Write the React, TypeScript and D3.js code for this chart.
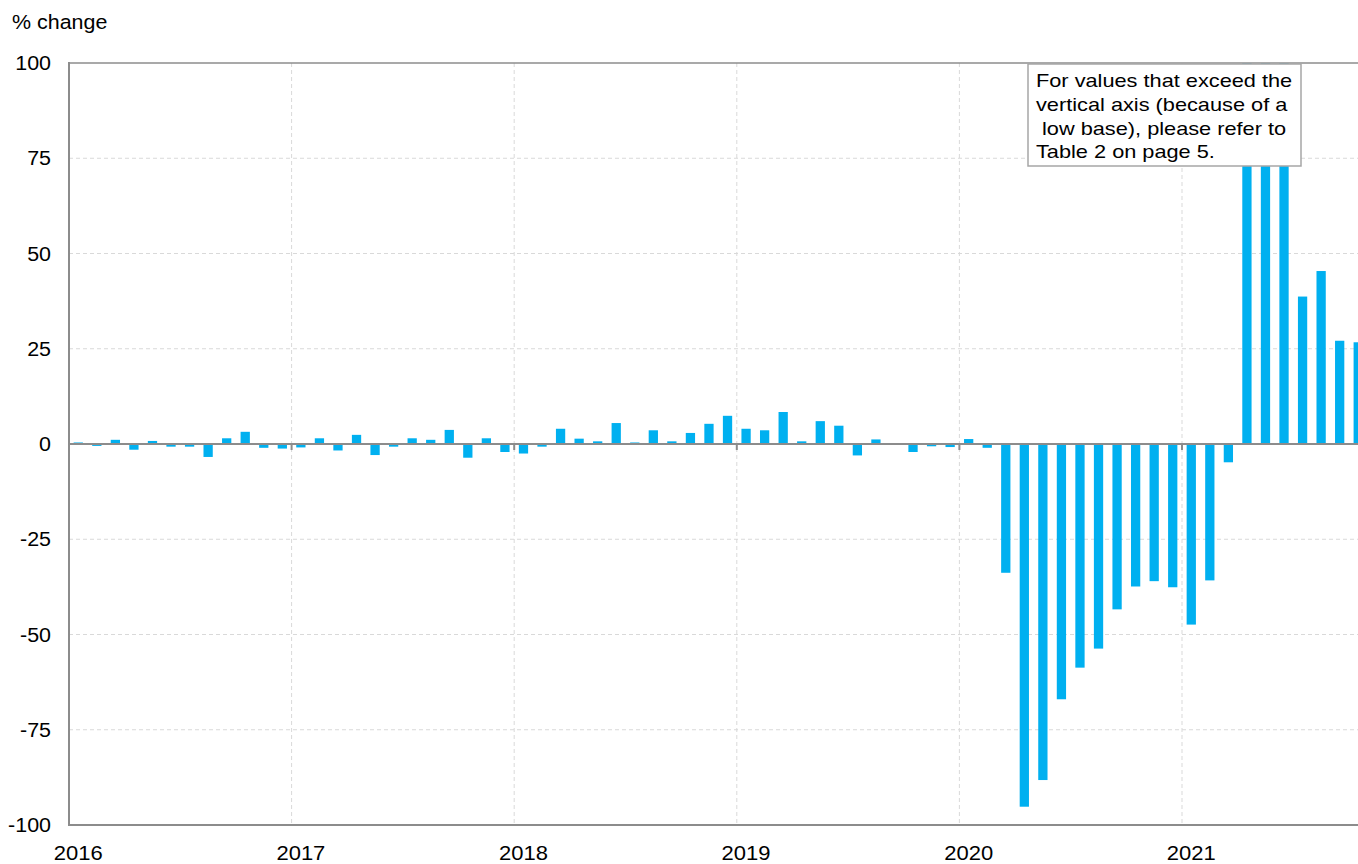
import * as React from 'react';
import * as d3 from 'd3';

// Monthly % change, Jan 2016 – Oct 2021
const years = ['2016', '2017', '2018', '2019', '2020', '2021'];
const values2016 = [0.4, -0.5, 1.1, -1.5, 0.8, -0.7, -0.7, -3.4, 1.5, 3.2, -1.0, -1.2];
const values2017 = [-0.9, 1.5, -1.7, 2.4, -2.9, -0.7, 1.5, 1.1, 3.7, -3.6, 1.5, -2.1];
const values2018 = [-2.5, -0.7, 4.0, 1.4, 0.7, 5.5, 0.4, 3.6, 0.7, 2.9, 5.3, 7.4];
const values2019 = [4.0, 3.6, 8.4, 0.7, 6.0, 4.8, -3.0, 1.2, 0.1, -2.1, -0.6, -0.8];
const values2020 = [1.3, -1.0, -33.8, -95.2, -88.2, -67.0, -58.7, -53.7, -43.4, -37.4, -36.0, -37.6];
// Apr–Jun 2021 exceed the axis (low base), shown clipped at 100
const values2021 = [-47.4, -35.8, -4.8, 150, 150, 150, 38.7, 45.4, 27.1, 26.7];
const yTicks = [100, 75, 50, 25, 0, -25, -50, -75, -100];
const noteLines = [
  'For values that exceed the',
  'vertical axis (because of a',
  ' low base), please refer to',
  'Table 2 on page 5.',
];

const BAR = '#00B0F0';
const AXIS = '#8c8c8c';
const GRID = '#d9d9d9';
const FONT = 'Arial, "Liberation Sans", sans-serif';
const STRETCH = 1.1; // the source text is drawn slightly wide

export default function App() {
  const width = 1358;
  const height = 864;
  const margin = { left: 69, top: 63, bottom: 825 };

  const values = [
    ...values2016, ...values2017, ...values2018,
    ...values2019, ...values2020, ...values2021,
  ];
  const months = values.map((_, i) => i);

  const x = d3
    .scaleBand<number>()
    .domain(months)
    .range([margin.left, margin.left + months.length * 18.55])
    .paddingInner(0.5)
    .paddingOuter(0.25);
  const step = x.step();
  const slotStart = (i: number) => (x(i) as number) - step * 0.25;

  const y = d3.scaleLinear().domain([-100, 100]).range([margin.bottom, margin.top]).clamp(true);

  const yearIdx = years.map((_, k) => k * 12);

  return (
    <svg
      width={width}
      height={height}
      style={{ position: 'absolute', left: 0, top: 0, background: '#fff' }}
      fontFamily={FONT}
    >
      {/* horizontal grid */}
      {yTicks
        .filter((t) => t !== 0 && Math.abs(t) !== 100)
        .map((t) => (
          <line
            key={'hg' + t}
            x1={margin.left}
            x2={width}
            y1={y(t)}
            y2={y(t)}
            stroke={GRID}
            strokeWidth={1}
            strokeDasharray="4,3"
          />
        ))}
      {/* vertical grid at year starts */}
      {yearIdx.slice(1).map((i) => (
        <line
          key={'vg' + i}
          x1={slotStart(i)}
          x2={slotStart(i)}
          y1={margin.top}
          y2={margin.bottom}
          stroke={GRID}
          strokeWidth={1}
          strokeDasharray="4,3"
        />
      ))}

      {/* bars */}
      {values.map((v, i) => (
        <rect
          key={'b' + i}
          x={x(i)}
          width={x.bandwidth()}
          y={Math.min(y(v), y(0))}
          height={Math.abs(y(v) - y(0))}
          fill={BAR}
        />
      ))}

      {/* frame */}
      <line x1={margin.left} x2={width} y1={margin.top} y2={margin.top} stroke={AXIS} strokeWidth={1.5} />
      <line x1={margin.left} x2={width} y1={margin.bottom} y2={margin.bottom} stroke={AXIS} strokeWidth={2} />
      <line x1={margin.left} x2={margin.left} y1={margin.top - 1} y2={margin.bottom + 1} stroke={AXIS} strokeWidth={2} />
      {/* zero line with year ticks */}
      <line x1={margin.left} x2={width} y1={y(0)} y2={y(0)} stroke={AXIS} strokeWidth={2} />
      {yearIdx.slice(1).map((i) => (
        <line
          key={'zt' + i}
          x1={slotStart(i)}
          x2={slotStart(i)}
          y1={y(0)}
          y2={y(0) + 6}
          stroke={AXIS}
          strokeWidth={2}
        />
      ))}

      {/* y labels */}
      {yTicks.map((t) => (
        <text
          key={'yl' + t}
          transform={`translate(51,${y(t)}) scale(${STRETCH},1)`}
          dy="0.36em"
          textAnchor="end"
          fontSize={19.5}
          fill="#000"
        >
          {t}
        </text>
      ))}
      <text transform={`translate(12,29) scale(${STRETCH},1)`} fontSize={19.5} fill="#000">
        % change
      </text>

      {/* x labels centred on January bars */}
      {yearIdx.map((i, k) => (
        <text
          key={'xl' + k}
          transform={`translate(${(x(i) as number) + x.bandwidth() / 2},860) scale(${STRETCH},1)`}
          textAnchor="middle"
          fontSize={20}
          fill="#000"
        >
          {years[k]}
        </text>
      ))}

      {/* note box */}
      <rect x={1028} y={64} width={273} height={102} fill="#fff" stroke="#a6a6a6" strokeWidth={1.5} />
      {noteLines.map((line, k) => (
        <text
          key={'n' + k}
          transform={`translate(1036,${87 + k * 23.8}) scale(1.145,1)`}
          fontSize={19}
          fill="#000"
          style={{ whiteSpace: 'pre' }}
          xmlSpace="preserve"
        >
          {line}
        </text>
      ))}
    </svg>
  );
}
